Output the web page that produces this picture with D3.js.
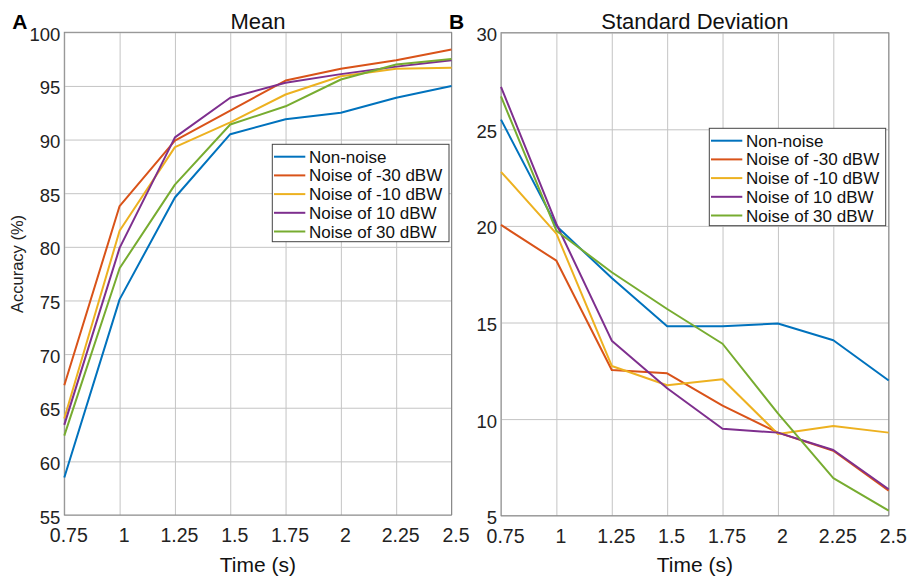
<!DOCTYPE html>
<html><head><meta charset="utf-8">
<script src="https://cdn.jsdelivr.net/npm/d3@7"></script>
<style>
body{margin:0;background:#fff}
text{font-family:Arial,"Liberation Sans",Helvetica,sans-serif;fill:#222}
</style>
</head><body>
<svg id="chart" width="907" height="579"></svg>
<script>
// ---- data ----
const times = [0.75, 1, 1.25, 1.5, 1.75, 2, 2.25, 2.5];
const seriesNames = ["Non-noise", "Noise of -30 dBW", "Noise of -10 dBW", "Noise of 10 dBW", "Noise of 30 dBW"];

const meanNonNoise = [58.5, 75.1, 84.6, 90.5, 91.9, 92.5, 93.9, 95.0];
const meanNoiseM30 = [67.1, 83.8, 89.9, 92.7, 95.5, 96.6, 97.4, 98.4];
const meanNoiseM10 = [64.0, 81.5, 89.3, 91.6, 94.2, 95.9, 96.6, 96.7];
const meanNoise10  = [63.4, 79.9, 90.2, 93.9, 95.3, 96.1, 96.8, 97.4];
const meanNoise30  = [62.4, 78.0, 85.8, 91.4, 93.1, 95.6, 97.0, 97.5];

const sdNonNoise = [25.5, 20.0, 17.3, 14.8, 14.8, 14.95, 14.08, 12.0];
const sdNoiseM30 = [20.05, 18.2, 12.54, 12.37, 10.7, 9.3, 8.36, 6.3];
const sdNoiseM10 = [22.8, 19.6, 12.75, 11.75, 12.06, 9.23, 9.64, 9.3];
const sdNoise10  = [27.2, 20.1, 14.06, 11.6, 9.5, 9.3, 8.4, 6.37];
const sdNoise30  = [26.7, 19.75, 17.6, 15.7, 13.9, 10.3, 6.94, 5.26];

const xTicks = [0.75, 1, 1.25, 1.5, 1.75, 2, 2.25, 2.5];
const meanYTicks = [55, 60, 65, 70, 75, 80, 85, 90, 95, 100];
const sdYTicks = [5, 10, 15, 20, 25, 30];
const colors = ["#0072BD", "#D95319", "#EDB120", "#7E2F8E", "#77AC30"];

// ---- layout ----
const panels = [
  { letter: "A", title: "Mean", ylabel: "Accuracy (%)",
    series: [meanNonNoise, meanNoiseM30, meanNoiseM10, meanNoise10, meanNoise30],
    yDomain: [55, 100], yTicks: meanYTicks,
    left: 64.3, right: 451.5, top: 32.3, bottom: 515,
    legend: { x: 272.3, y: 144.3, w: 176.7, h: 97.4 } },
  { letter: "B", title: "Standard Deviation", ylabel: null,
    series: [sdNonNoise, sdNoiseM30, sdNoiseM10, sdNoise10, sdNoise30],
    yDomain: [5, 30], yTicks: sdYTicks,
    left: 501, right: 888.7, top: 32.7, bottom: 515.7,
    legend: { x: 709.3, y: 128.3, w: 176.4, h: 97.4 } }
];

const svg = d3.select("#chart");

panels.forEach(p => {
  const x = d3.scaleLinear().domain([0.75, 2.5]).range([p.left, p.right]);
  const y = d3.scaleLinear().domain(p.yDomain).range([p.bottom, p.top]);
  const w = p.right - p.left, h = p.bottom - p.top;
  const g = svg.append("g");

  // grid via axes
  const gx = g.append("g").attr("transform", `translate(0,${p.bottom})`)
    .call(d3.axisBottom(x).tickValues(xTicks).tickSize(-h).tickPadding(0).tickFormat(d => String(d)));
  gx.select(".domain").remove();
  gx.selectAll(".tick line").attr("stroke", "#c4c4c4").attr("stroke-width", 1);
  gx.selectAll(".tick text").attr("y", 27).attr("dy", 0).attr("dx", 4)
    .style("font-size", "19.5px").style("fill", "#222");

  const gy = g.append("g").attr("transform", `translate(${p.left},0)`)
    .call(d3.axisLeft(y).tickValues(p.yTicks).tickSize(-w).tickPadding(0).tickFormat(d => String(d)));
  gy.select(".domain").remove();
  gy.selectAll(".tick line").attr("stroke", "#c4c4c4").attr("stroke-width", 1);
  gy.selectAll(".tick text").attr("x", -4).attr("dy", 8).attr("text-anchor", "end")
    .style("font-size", "18.5px").style("fill", "#222");

  // box
  g.append("rect").attr("x", p.left).attr("y", p.top).attr("width", w).attr("height", h)
    .attr("fill", "none").attr("stroke", "#8a8a8a").attr("stroke-width", 1);

  // lines
  const line = d3.line().x((d, i) => x(times[i])).y(d => y(d));
  p.series.forEach((s, i) => {
    g.append("path").datum(s).attr("d", line).attr("fill", "none")
      .attr("stroke", colors[i]).attr("stroke-width", 2).attr("stroke-linejoin", "round");
  });

  // title
  g.append("text").attr("x", (p.left + p.right) / 2).attr("y", 28.5)
    .attr("text-anchor", "middle").style("font-size", "22px").style("fill", "#111").text(p.title);
  // panel letter
  g.append("text").attr("x", p.left - 52).attr("y", 29)
    .style("font-size", "21px").style("font-weight", "bold").style("fill", "#000").text(p.letter);
  // x label
  g.append("text").attr("x", (p.left + p.right) / 2).attr("y", 572)
    .attr("text-anchor", "middle").style("font-size", "21px").style("fill", "#111").text("Time (s)");
  // y label
  if (p.ylabel) {
    g.append("text").attr("transform", `translate(23,264) rotate(-90)`)
      .attr("text-anchor", "middle").style("font-size", "16.5px").style("fill", "#222").text(p.ylabel);
  }

  // legend
  const L = p.legend;
  const lg = g.append("g");
  lg.append("rect").attr("x", L.x).attr("y", L.y).attr("width", L.w).attr("height", L.h)
    .attr("fill", "#fff").attr("stroke", "#444").attr("stroke-width", 1);
  const rowH = 18.7;
  seriesNames.forEach((name, i) => {
    const cy = L.y + 12.4 + i * rowH;
    lg.append("line").attr("x1", L.x + 1.7).attr("x2", L.x + 33).attr("y1", cy).attr("y2", cy)
      .attr("stroke", colors[i]).attr("stroke-width", 2);
    lg.append("text").attr("x", L.x + 36.7).attr("y", cy + 6)
      .style("font-size", "17px").style("fill", "#111").text(name);
  });
});
</script>
</body></html>
